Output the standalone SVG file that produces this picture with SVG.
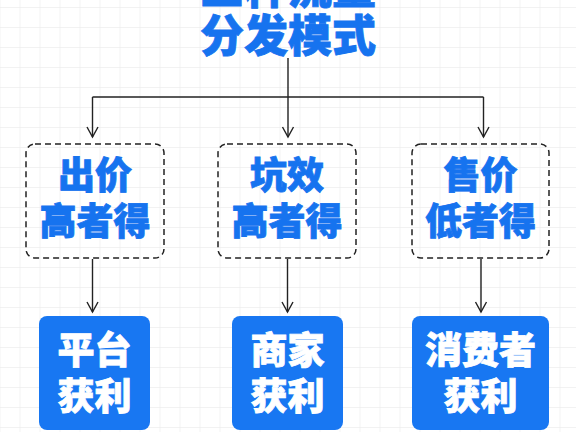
<svg xmlns="http://www.w3.org/2000/svg" width="576" height="432" viewBox="0 0 576 432">
<defs>
<pattern id="grid" x="19.5" y="7" width="20" height="20" patternUnits="userSpaceOnUse">
<path d="M0,0 H20 M0,0 V20" fill="none" stroke="#e6e6e6" stroke-width="1"/>
</pattern>
<marker id="arr" viewBox="-12 -7 14 14" markerWidth="14" markerHeight="14" refX="0" refY="0" orient="auto" markerUnits="userSpaceOnUse">
<path d="M-10,-5.5 L0,0 L-10,5.5" fill="none" stroke="#222" stroke-width="1.4"/>
</marker>
</defs>
<style>
.t{font-family:"Noto Sans CJK SC","Noto Sans CJK JP",sans-serif;font-weight:900;text-anchor:middle}
.title{font-size:44px;fill:#1673ef;stroke:#1673ef;stroke-width:0.8}
.blue{font-size:37px;fill:#1673ef;stroke:#1673ef;stroke-width:0.8}
.white{font-size:37px;fill:#ffffff;stroke:#ffffff;stroke-width:0.8}
.dash{fill:none;stroke:#222;stroke-width:1.5;stroke-dasharray:6 4}
.solid{fill:#1877f2}
.c{fill:none;stroke:#222;stroke-width:1.4}
</style>
<rect width="576" height="432" fill="#ffffff"/>
<rect width="576" height="432" fill="url(#grid)"/>
<g id="title">
<text class="t title" x="288" y="4">三种流量</text>
<text class="t title" x="288" y="52">分发模式</text>
</g>
<g id="connectors">
<path class="c" d="M288,58 V97"/>
<path class="c" d="M92.5,97 H483.5"/>
<path class="c" d="M92.5,97 V137" marker-end="url(#arr)"/>
<path class="c" d="M288,97 V137" marker-end="url(#arr)"/>
<path class="c" d="M483.5,97 V137" marker-end="url(#arr)"/>
<path class="c" d="M92.5,259 V312" marker-end="url(#arr)"/>
<path class="c" d="M287.5,259 V312" marker-end="url(#arr)"/>
<path class="c" d="M481,259 V312" marker-end="url(#arr)"/>
</g>
<g id="box1">
<rect class="dash" x="26" y="144" width="138" height="114" rx="9"/>
<text class="t blue" x="95" y="189">出价</text>
<text class="t blue" x="95" y="235">高者得</text>
</g>
<g id="box2">
<rect class="dash" x="218" y="144" width="138" height="114" rx="9"/>
<text class="t blue" x="287" y="189">坑效</text>
<text class="t blue" x="287" y="235">高者得</text>
</g>
<g id="box3">
<rect class="dash" x="412" y="144" width="137" height="114" rx="9"/>
<text class="t blue" x="480.5" y="189">售价</text>
<text class="t blue" x="480.5" y="235">低者得</text>
</g>
<g id="res1">
<rect class="solid" x="39" y="316" width="111" height="114" rx="8"/>
<text class="t white" x="94.5" y="364">平台</text>
<text class="t white" x="94.5" y="410">获利</text>
</g>
<g id="res2">
<rect class="solid" x="232" y="316" width="111" height="114" rx="8"/>
<text class="t white" x="287.5" y="364">商家</text>
<text class="t white" x="287.5" y="410">获利</text>
</g>
<g id="res3">
<rect class="solid" x="412" y="316" width="137" height="114" rx="8"/>
<text class="t white" x="480.5" y="364">消费者</text>
<text class="t white" x="480.5" y="410">获利</text>
</g>
</svg>
